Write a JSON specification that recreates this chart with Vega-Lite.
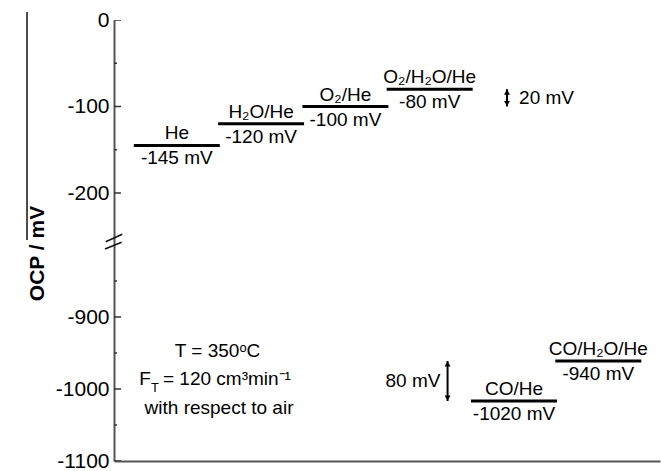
{
  "$schema": "https://vega.github.io/schema/vega-lite/v6.json",
  "width": 546,
  "height": 441,
  "autosize": "none",
  "padding": {"left": 114, "top": 20, "right": 1, "bottom": 10},
  "background": "white",
  "config": {
    "view": {"stroke": null},
    "font": "Liberation Sans",
    "text": {"font": "Liberation Sans", "color": "#000"}
  },
  "datasets": {
    "levels": [
      {"pos": 0, "ocp": -145, "gas": "He"},
      {"pos": 1, "ocp": -120, "gas": "H₂O/He"},
      {"pos": 2, "ocp": -100, "gas": "O₂/He"},
      {"pos": 3, "ocp": -80, "gas": "O₂/H₂O/He"},
      {"pos": 4, "ocp": -1020, "gas": "CO/He"},
      {"pos": 5, "ocp": -940, "gas": "CO/H₂O/He"}
    ],
    "steps": [
      {"pos": 3.917, "ocp": -80, "ocp2": -100},
      {"pos": 3.212, "ocp": -940, "ocp2": -1020}
    ],
    "stepLabels": [
      {"pos": 4.386, "ocp": -90, "step": "20 mV"},
      {"pos": 2.802, "ocp": -980, "step": "80 mV"}
    ],
    "conditions": [
      {"pos": 0.483, "ocp": -931, "note": "T = 350ᵒC"},
      {"pos": 0.501, "ocp": -1046, "note": "with respect to air"}
    ],
    "flow": [
      {"pos": -0.445, "ocp": -988, "part": "F", "kind": "main"},
      {"pos": -0.306, "ocp": -1001, "part": "T", "kind": "sub"},
      {"pos": -0.164, "ocp": -988, "part": "= 120 cm³min⁻¹", "kind": "main"}
    ],
    "yTicks": [
      {"v": 0}, {"v": -50}, {"v": -100}, {"v": -150}, {"v": -200},
      {"v": -850}, {"v": -900}, {"v": -950}, {"v": -1000}, {"v": -1050}, {"v": -1100}
    ],
    "strokes": [
      {"x": -0.843, "x2": -0.647, "y": -592.6, "y2": -247.7},
      {"x": -0.852, "x2": -0.654, "y": -805.5, "y2": -630},
      {"x": -1.777, "x2": -1.777, "y": 9.25, "y2": -485}
    ]
  },
  "layer": [
    {
      "data": {"name": "strokes"},
      "mark": {"type": "rule", "color": "#111", "strokeWidth": 1.5},
      "encoding": {
        "x": {
          "field": "x", "type": "quantitative",
          "scale": {"domain": [-0.745, 5.732], "nice": false, "zero": false},
          "axis": {"orient": "bottom", "ticks": false, "labels": false, "title": null, "grid": false, "domainColor": "#555", "domainWidth": 2}
        },
        "x2": {"field": "x2"},
        "y": {
          "field": "y", "type": "quantitative",
          "scale": {"domain": [0, -250, -800, -1100], "range": [0, 216.25, 225, 441], "nice": false, "zero": false},
          "axis": {
            "orient": "left",
            "values": [0, -100, -200, -900, -1000, -1100],
            "labelExpr": "'' + datum.value",
            "labelFont": "Liberation Sans", "labelFontSize": 21, "labelColor": "#000",
            "labelPadding": 5, "labelOverlap": false, "labelFlush": false,
            "ticks": false, "tickSize": 0,
            "domainColor": "#555", "domainWidth": 2, "grid": false,
            "title": "OCP / mV", "titleFont": "Liberation Sans", "titleFontSize": 21, "titleFontWeight": "bold", "titleColor": "#000",
            "titleAngle": -90, "titleX": -71, "titleY": 233, "titleAlign": "center", "titleBaseline": "alphabetic"
          }
        },
        "y2": {"field": "y2"}
      }
    },
    {
      "data": {"name": "yTicks"},
      "mark": {"type": "tick", "orient": "horizontal", "thickness": 1.5, "color": "#333", "opacity": 1, "clip": true},
      "encoding": {
        "x": {"datum": -0.745, "type": "quantitative", "scale": {"domain": [-0.745, 5.732], "nice": false, "zero": false}, "axis": null},
        "y": {"field": "v", "type": "quantitative", "scale": {"domain": [0, -250, -800, -1100], "range": [0, 216.25, 225, 441], "nice": false, "zero": false}, "axis": null},
        "size": {"condition": {"test": "datum.v % 100 === 0", "value": 14}, "value": 6}
      }
    },
    {
      "layer": [
        {
          "data": {"name": "levels"},
          "mark": {"type": "tick", "orient": "horizontal", "size": 86, "thickness": 3, "color": "#000", "opacity": 1},
          "encoding": {
            "x": {
              "field": "pos", "type": "quantitative",
              "scale": {"domain": [-0.745, 5.732], "nice": false, "zero": false},
              "axis": {"orient": "top", "ticks": false, "labels": false, "title": null, "grid": false, "domainColor": "#555", "domainWidth": 2}
            },
            "y": {
              "field": "ocp", "type": "quantitative",
              "scale": {"domain": [0, -250, -800, -1100], "range": [0, 216.25, 271, 421], "nice": false, "zero": false},
              "axis": null
            }
          }
        },
        {
          "data": {"name": "levels"},
          "mark": {"type": "text", "baseline": "alphabetic", "align": "center", "dy": -6, "fontSize": 19},
          "encoding": {
            "x": {"field": "pos", "type": "quantitative", "scale": {"domain": [-0.745, 5.732], "nice": false, "zero": false}, "axis": null},
            "y": {"field": "ocp", "type": "quantitative", "scale": {"domain": [0, -250, -800, -1100], "range": [0, 216.25, 271, 421], "nice": false, "zero": false}, "axis": null},
            "text": {"field": "gas"}
          }
        },
        {
          "data": {"name": "levels"},
          "transform": [{"calculate": "datum.ocp + ' mV'", "as": "valueLabel"}],
          "mark": {"type": "text", "baseline": "alphabetic", "align": "center", "dy": 19, "fontSize": 19},
          "encoding": {
            "x": {"field": "pos", "type": "quantitative", "scale": {"domain": [-0.745, 5.732], "nice": false, "zero": false}, "axis": null},
            "y": {"field": "ocp", "type": "quantitative", "scale": {"domain": [0, -250, -800, -1100], "range": [0, 216.25, 271, 421], "nice": false, "zero": false}, "axis": null},
            "text": {"field": "valueLabel"}
          }
        },
        {
          "data": {"name": "steps"},
          "mark": {"type": "rule", "color": "#000", "strokeWidth": 2},
          "encoding": {
            "x": {"field": "pos", "type": "quantitative", "scale": {"domain": [-0.745, 5.732], "nice": false, "zero": false}, "axis": null},
            "y": {"field": "ocp", "type": "quantitative", "scale": {"domain": [0, -250, -800, -1100], "range": [0, 216.25, 271, 421], "nice": false, "zero": false}, "axis": null},
            "y2": {"field": "ocp2"}
          }
        },
        {
          "data": {"name": "steps"},
          "mark": {"type": "point", "shape": "triangle-up", "filled": true, "size": 36, "color": "#000", "opacity": 1, "yOffset": 3},
          "encoding": {
            "x": {"field": "pos", "type": "quantitative", "scale": {"domain": [-0.745, 5.732], "nice": false, "zero": false}, "axis": null},
            "y": {"field": "ocp", "type": "quantitative", "scale": {"domain": [0, -250, -800, -1100], "range": [0, 216.25, 271, 421], "nice": false, "zero": false}, "axis": null}
          }
        },
        {
          "data": {"name": "steps"},
          "mark": {"type": "point", "shape": "triangle-down", "filled": true, "size": 36, "color": "#000", "opacity": 1, "yOffset": -3},
          "encoding": {
            "x": {"field": "pos", "type": "quantitative", "scale": {"domain": [-0.745, 5.732], "nice": false, "zero": false}, "axis": null},
            "y": {"field": "ocp2", "type": "quantitative", "scale": {"domain": [0, -250, -800, -1100], "range": [0, 216.25, 271, 421], "nice": false, "zero": false}, "axis": null}
          }
        },
        {
          "data": {"name": "stepLabels"},
          "mark": {"type": "text", "baseline": "middle", "align": "center", "fontSize": 19},
          "encoding": {
            "x": {"field": "pos", "type": "quantitative", "scale": {"domain": [-0.745, 5.732], "nice": false, "zero": false}, "axis": null},
            "y": {"field": "ocp", "type": "quantitative", "scale": {"domain": [0, -250, -800, -1100], "range": [0, 216.25, 271, 421], "nice": false, "zero": false}, "axis": null},
            "text": {"field": "step"}
          }
        },
        {
          "data": {"name": "conditions"},
          "mark": {"type": "text", "baseline": "alphabetic", "align": "center", "fontSize": 19},
          "encoding": {
            "x": {"field": "pos", "type": "quantitative", "scale": {"domain": [-0.745, 5.732], "nice": false, "zero": false}, "axis": null},
            "y": {"field": "ocp", "type": "quantitative", "scale": {"domain": [0, -250, -800, -1100], "range": [0, 216.25, 271, 421], "nice": false, "zero": false}, "axis": null},
            "text": {"field": "note"}
          }
        },
        {
          "data": {"name": "flow"},
          "mark": {"type": "text", "baseline": "alphabetic", "align": "left"},
          "encoding": {
            "x": {"field": "pos", "type": "quantitative", "scale": {"domain": [-0.745, 5.732], "nice": false, "zero": false}, "axis": null},
            "y": {"field": "ocp", "type": "quantitative", "scale": {"domain": [0, -250, -800, -1100], "range": [0, 216.25, 271, 421], "nice": false, "zero": false}, "axis": null},
            "text": {"field": "part"},
            "size": {"condition": {"test": "datum.kind === 'sub'", "value": 13}, "value": 19}
          }
        }
      ]
    }
  ],
  "resolve": {
    "scale": {"x": "independent", "y": "independent"},
    "axis": {"x": "independent", "y": "independent"}
  }
}
